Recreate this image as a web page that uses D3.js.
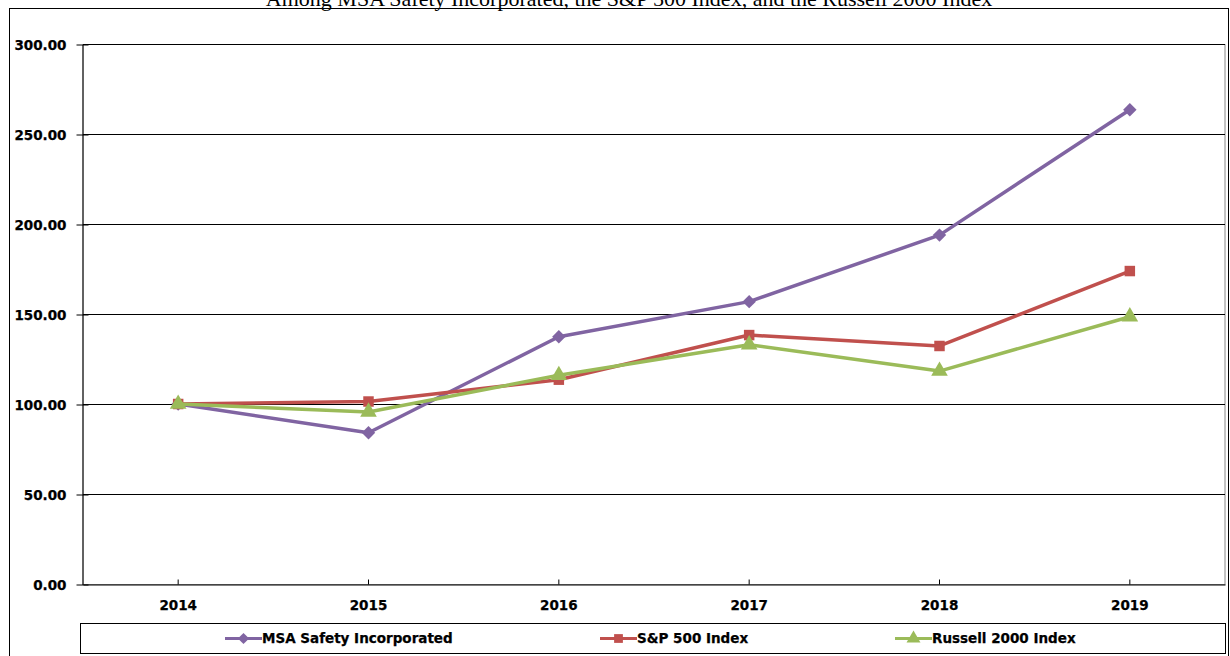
<!DOCTYPE html>
<html>
<head>
<meta charset="utf-8">
<script src="https://cdn.jsdelivr.net/npm/d3@7/dist/d3.min.js"></script>
<style>
  html, body { margin: 0; padding: 0; background: #fff; }
  svg { display: block; }
  .tick-label { font-family: "DejaVu Sans", sans-serif; font-weight: bold; font-size: 13.5px; fill: #000; stroke: #000; stroke-width: 0.25px; }
</style>
</head>
<body>
<script>
  // chart data
  const years = ['2014', '2015', '2016', '2017', '2018', '2019'];
  const msaValues = [100.00, 84.05, 137.33, 156.86, 193.83, 263.49];
  const spValues = [100.00, 101.38, 113.51, 138.29, 132.23, 173.86];
  const russellValues = [100.00, 95.59, 115.95, 132.94, 118.30, 148.49];
  const yTicks = [0, 50, 100, 150, 200, 250, 300];
  const seriesNames = ['MSA Safety Incorporated', 'S&P 500 Index', 'Russell 2000 Index'];

  const series = [
    { name: seriesNames[0], values: msaValues, color: '#8064A2', symbol: d3.symbolSquare, size: 90, rotate: 45 },
    { name: seriesNames[1], values: spValues, color: '#C0504D', symbol: d3.symbolSquare, size: 110, rotate: 0 },
    { name: seriesNames[2], values: russellValues, color: '#9BBB59', symbol: d3.symbolTriangle, size: 120, rotate: 0 }
  ];

  const W = 1230, H = 656;
  const plot = { left: 83, right: 1225, top: 44, bottom: 584 };

  const svg = d3.select('body').append('svg').attr('width', W).attr('height', H);

  // title (partly cut off at the top, as in the source picture)
  svg.append('text')
    .attr('x', 629).attr('y', 6)
    .attr('text-anchor', 'middle')
    .style('font-family', '"Liberation Serif", serif')
    .style('font-size', '22px')
    .text('Among MSA Safety Incorporated, the S&P 500 Index, and the Russell 2000 Index');

  // outer chart frame
  svg.append('rect')
    .attr('x', 9.5).attr('y', 8.5)
    .attr('width', 1219).attr('height', 700)
    .attr('fill', 'none').attr('stroke', '#000').attr('stroke-width', 1);

  const x = d3.scaleBand().domain(years).range([plot.left, plot.right]).padding(0);
  const y = d3.scaleLinear().domain([0, 300]).range([plot.bottom, plot.top]);
  const cx = d => x(d) + x.bandwidth() / 2;

  // plot area border (gray)
  svg.append('rect')
    .attr('x', plot.left).attr('y', plot.top + 0.5)
    .attr('width', plot.right - plot.left).attr('height', plot.bottom - plot.top)
    .attr('fill', 'none').attr('stroke', '#888').attr('stroke-width', 1);

  // gridlines
  svg.append('g').selectAll('line').data(yTicks.filter(t => t > 0)).enter().append('line')
    .attr('x1', plot.left).attr('x2', plot.right)
    .attr('y1', d => Math.round(y(d)) + 0.5).attr('y2', d => Math.round(y(d)) + 0.5)
    .attr('stroke', '#000').attr('stroke-width', 1);

  // y axis
  const yAxis = svg.append('g')
    .attr('transform', `translate(${plot.left - 0.5},0.5)`)
    .call(d3.axisLeft(y).tickValues(yTicks).tickFormat(d3.format('.2f')).tickSizeInner(6).tickSizeOuter(0));
  yAxis.select('.domain').attr('stroke', '#000');
  yAxis.selectAll('.tick line').attr('x2', -6).attr('x1', 6).attr('stroke', '#000');
  yAxis.selectAll('.tick text')
    .attr('class', 'tick-label').attr('x', -16).attr('dy', '0.36em');
  yAxis.attr('font-family', null).attr('font-size', null);

  // x axis
  const xAxis = svg.append('g')
    .attr('transform', `translate(0,${plot.bottom + 0.5})`)
    .call(d3.axisBottom(x).tickSizeInner(-5).tickSizeOuter(0));
  xAxis.select('.domain').attr('stroke', '#000');
  xAxis.selectAll('.tick line').attr('stroke', '#000');
  xAxis.selectAll('.tick text')
    .attr('class', 'tick-label').attr('y', 21).attr('dy', '0.36em');
  xAxis.attr('font-family', null).attr('font-size', null);

  // series lines and markers
  const line = d3.line().x((d, i) => cx(years[i])).y(d => y(d));

  series.forEach(s => {
    const g = svg.append('g');
    g.append('path')
      .datum(s.values)
      .attr('d', line)
      .attr('fill', 'none')
      .attr('stroke', s.color)
      .attr('stroke-width', 3.5)
      .attr('stroke-linejoin', 'round');
    g.selectAll('path.mark').data(s.values).enter().append('path')
      .attr('class', 'mark')
      .attr('d', d3.symbol().type(s.symbol).size(s.size))
      .attr('transform', (d, i) => `translate(${cx(years[i])},${y(d)}) rotate(${s.rotate})`)
      .attr('fill', s.color);
  });

  // legend
  const legend = { left: 80, right: 1225, top: 623, bottom: 653 };
  svg.append('rect')
    .attr('x', legend.left + 0.5).attr('y', legend.top + 0.5)
    .attr('width', legend.right - legend.left).attr('height', legend.bottom - legend.top)
    .attr('fill', '#fff').attr('stroke', '#000').attr('stroke-width', 1);

  const legendStarts = [225, 600, 895];
  const ly = (legend.top + legend.bottom) / 2 + 0.5;
  series.forEach((s, i) => {
    const g = svg.append('g').attr('transform', `translate(${legendStarts[i]},${ly})`);
    g.append('line').attr('x1', 0).attr('x2', 37).attr('stroke', s.color).attr('stroke-width', 3);
    g.append('path')
      .attr('d', d3.symbol().type(s.symbol).size(s.size * 0.7))
      .attr('transform', `translate(18.5,0) rotate(${s.rotate})`)
      .attr('fill', s.color);
    g.append('text')
      .attr('class', 'tick-label')
      .attr('x', 37).attr('dy', '0.36em')
      .text(s.name);
  });
</script>
</body>
</html>
